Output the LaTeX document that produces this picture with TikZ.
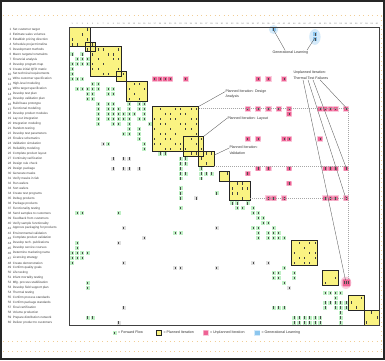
\documentclass[tikz,border=0pt]{standalone}
\usepackage{fontspec}
\setmainfont{Liberation Sans}
\definecolor{yfill}{RGB}{250,243,130}
\definecolor{gfill}{RGB}{192,240,198}
\definecolor{pfill}{RGB}{238,98,148}
\definecolor{pglow}{RGB}{250,205,222}
\definecolor{bfill}{RGB}{140,198,238}
\definecolor{bglow}{RGB}{212,234,250}
\definecolor{dotc}{RGB}{240,205,150}
\newcommand\dsmmark[3]{%
  \fill[#1] ({#2-0.88},{#3-0.9}) rectangle ({#2-0.12},{#3-0.1});
  \fill[black!70] ({#2-0.56},{#3-0.74}) rectangle ({#2-0.44},{#3-0.26});}
\newcommand\pinkglow[2]{%
  \fill[pglow] ({#1-1.12},{#2-1.08}) rectangle ({#1+0.12},{#2+0.08});}
\newcommand\pinkcell[2]{%
  \fill[pfill,rounded corners=0.3pt] ({#1-0.92},{#2-0.9}) rectangle ({#1-0.08},{#2-0.1});
  \fill[black!70] ({#1-0.56},{#2-0.74}) rectangle ({#1-0.44},{#2-0.26});}
\begin{document}
\begin{tikzpicture}[x=1pt,y=-1pt,
  lbl/.style={font=\fontsize{3.1}{3.1}\selectfont, text=black!75, inner sep=0pt},
  hdr/.style={font=\fontsize{2}{2}\selectfont, text=black!55, inner sep=0pt},
  ann/.style={font=\fontsize{3.6}{5.6}\selectfont, text=black!80, inner sep=0.3pt, align=left},
  lead/.style={draw=black!65, line width=0.35pt},
  dotl/.style={draw=black!35, line width=0.45pt, dash pattern=on 0.7pt off 1.3pt},
  blockframe/.style={draw=black!85, line width=0.8pt},
  edgedots/.style={draw=dotc, line width=1pt, dash pattern=on 1pt off 3.5pt}]
\useasboundingbox (0,0) rectangle (385,360);
\fill[white] (0,0) rectangle (385,360);
% outer frame and dotted page edges
\draw[line width=1.6pt, black!85] (0.8,0.8) rectangle (384.2,359.2);
\draw[edgedots] (3,15.8) -- (383,15.8);
\draw[edgedots] (3,341.5) -- (383,341.5);
\draw[edgedots] (3,351) -- (383,351);
\draw[edgedots] (381.8,15.8) -- (381.8,351);
% row labels
\foreach \ii/\lab in {1/Set customer target,2/Estimate sales volumes,3/Establish pricing direction,4/Schedule project timeline,5/Development methods,6/{Macro targets/constraints},7/Financial analysis,8/Develop program map,9/Create initial QFD matrix,10/Set technical requirements,11/Write customer specification,12/High-level modeling,13/Write target specification,14/Develop test plan,15/Develop validation plan,16/Build base prototype,17/Functional modeling,18/Develop product modules,19/Lay out integration,20/Integration modeling,21/Random testing,22/Develop test parameters,23/Finalize schematics,24/Validation simulation,25/Reliability modeling,26/Complete product layout,27/Continuity verification,28/Design rule check,29/Design package,30/Generate masks,31/Verify masks in fab,32/Run wafers,33/Sort wafers,34/Create test programs,35/Debug products,36/Package products,37/Functionality testing,38/Send samples to customers,39/Feedback from customers,40/Verify sample functionality,41/Approve packaging for products,42/Environmental validation,43/Complete product validation,44/Develop tech. publications,45/Develop service courses,46/Determine marketing name,47/Licensing strategy,48/Create demonstration,49/Confirm quality goals,50/Life testing,51/Infant mortality testing,52/Mfg. process stabilization,53/Develop field support plan,54/Thermal testing,55/Confirm process standards,56/Confirm package standards,57/Final certification,58/Volume production,59/Prepare distribution network,60/Deliver product to customers}{
  \node[lbl, anchor=east] (num\ii) at (11.6,{27+(\ii-0.5)*4.967}) {\ii};
  \node[lbl, anchor=west] (lab\ii) at (12.6,{27+(\ii-0.5)*4.967}) {\lab};
}
% matrix
\begin{scope}[shift={(69.5pt,-27pt)}, x=5.1667pt, y=-4.967pt]
  \foreach \cc in {1,...,60}{\node[hdr] (h\cc) at ({\cc-0.5},-0.65) {\cc};}
  % planned iteration blocks
  \foreach \ba/\bb in {1/4,4/5,5/10,10/11,12/15,17/25,23/26,26/28,30/31,32/35,44/48,50/52,55/57,58/60}{
    \fill[yfill] ({\ba-1},{\ba-1}) rectangle (\bb,\bb);
  }
  \foreach \ba/\bb in {1/4,4/5,5/10,10/11,12/15,17/25,23/26,26/28,30/31,32/35,44/48,50/52,55/57,58/60}{
    \foreach \ui in {\ba,...,\bb}{\foreach \uj in {\ba,...,\bb}{
      \pgfmathtruncatemacro\mk{mod(\ui*3+\uj*5,7)}
      \ifnum\ui=\uj\relax\else\ifnum\mk<4
        \fill[black!75] ({\uj-0.56},{\ui-0.74}) rectangle ({\uj-0.44},{\ui-0.26});
      \fi\fi
    }}
  }
  % forward flow marks
  \foreach \rr/\cc in {6/1,6/3,7/2,7/3,7/4,8/1,8/2,8/3,8/4,9/1,10/1,11/1,11/2,11/3,
    12/5,12/6,13/2,13/3,13/4,13/5,13/6,13/8,13/9,14/4,14/5,14/8,14/9,15/4,15/5,
    16/6,16/8,16/9,16/12,16/14,16/15,17/6,17/8,17/9,17/10,17/12,17/14,17/15,
    18/6,18/8,18/9,18/10,18/11,18/12,18/13,18/15,19/6,19/8,19/9,19/10,19/11,19/12,19/14,19/15,
    20/6,20/9,20/10,20/12,20/16,21/12,21/14,22/11,22/12,22/14,23/14,24/8,24/15,25/15,
    26/18,26/19,27/22,27/23,28/22,28/23,29/22,29/26,30/22,30/23,30/26,30/27,30/28,31/22,31/26,
    33/22,34/22,34/29,35/22,37/22,
    36/32,36/33,36/35,37/33,37/34,37/36,38/2,38/3,38/10,38/36,38/37,39/37,39/38,40/38,40/39,
    41/36,41/37,41/40,42/21,42/22,42/37,42/39,42/40,42/41,43/37,43/39,43/40,43/41,43/42,
    44/2,45/2,46/1,46/2,46/3,46/4,47/1,47/2,47/3,48/1,49/42,50/40,50/41,50/44,51/40,51/41,51/44,
    52/4,52/42,53/4,54/50,54/51,54/52,54/53,55/52,56/50,56/51,56/52,56/53,56/54,
    57/40,57/41,57/42,57/50,57/52,57/53,57/54,58/53,59/4,59/5,59/44,59/45,59/46,59/47,59/48,59/49,59/53,
    60/44,60/45,60/46,60/47,60/48,60/49,60/53}{\dsmmark{gfill}{\cc}{\rr}}
  \foreach \rr/\cc in {24/7,27/9,27/11,27/12,29/9,29/11,29/12,29/14,35/25,41/11,41/29,43/15,44/10,
    48/11,48/36,48/39,49/21,49/22,49/29,53/43,57/11,60/10}{\dsmmark{black!12}{\cc}{\rr}}
  % unplanned iteration marks
  \foreach \rr/\cc in {11/17,11/18,11/19,11/20,11/23,11/37,11/39,11/42,
    17/35,17/37,17/39,17/41,17/43,17/49,17/50,17/51,17/52,17/54,18/43,
    23/35,23/37,23/42,23/43,23/49,29/37,29/39,29/43,29/50,29/51,29/52,29/54,
    30/35,32/43,35/39,35/40,35/42,35/50,35/51,35/52,35/54}{\pinkglow{\cc}{\rr}}
  \foreach \rr/\cc in {11/17,11/18,11/19,11/20,11/23,11/37,11/39,11/42,
    17/35,17/37,17/39,17/41,17/43,17/49,17/50,17/51,17/52,17/54,18/43,
    23/35,23/37,23/42,23/43,23/49,29/37,29/39,29/43,29/50,29/51,29/52,29/54,
    30/35,32/43,35/39,35/40,35/42,35/50,35/51,35/52,35/54}{\pinkcell{\cc}{\rr}}
  \fill[pglow] (53.5,51.5) ellipse (1.05 and 1.25);
  \fill[pfill,rounded corners=0.5pt] (52.85,50.8) rectangle (54.35,52.2);
  \foreach \xx in {53.1,53.5,53.9}{\fill[black!70] ({\xx-0.06},51.2) rectangle ({\xx+0.06},51.8);}
  % generational learning marks
  \fill[bglow] (39.5,0.5) ellipse (0.9 and 0.9);
  \fill[bglow] (47.5,2) ellipse (1.1 and 1.6);
  \foreach \rr/\cc in {1/40,2/48,3/48}{\dsmmark{bfill}{\cc}{\rr}}
  % block frames
  \foreach \ba/\bb in {1/4,4/5,5/10,10/11,12/15,17/25,23/26,26/28,30/31,32/35,44/48,50/52,55/57,58/60}{
    \draw[blockframe] ({\ba-1},{\ba-1}) rectangle (\bb,\bb);
  }
  \draw[draw=black!75, line width=0.8pt] (0,0) rectangle (60,60);
  % named points
  \coordinate (blueA) at (39.5,0.6);
  \coordinate (blueB) at (47.5,2.2);
  \coordinate (bk6) at (25,16);
  \coordinate (bk7) at (26,22);
  \coordinate (bk8) at (28,25.8);
  \coordinate (t17) at (53.5,16.2);
  \coordinate (t29) at (53.5,28.2);
  \coordinate (t35) at (53.4,34.2);
  \coordinate (t52) at (53.4,50.9);
  \coordinate (d1a) at (25,16.3);  \coordinate (d1b) at (54,16.3);
  \coordinate (d2a) at (28,28.1);  \coordinate (d2b) at (54,28.1);
  \coordinate (d3a) at (35,34.4);  \coordinate (d3b) at (54,34.4);
  \coordinate (d4) at (54,50.9);
\end{scope}
% dotted boundary of the unplanned iteration region
\draw[dotl] (d1a) -- (d1b);
\draw[dotl] (d2a) -- (d2b);
\draw[dotl] (d3a) -- (d3b);
\draw[dotl] (d1b) -- (d4);
% annotations
\node[ann, anchor=west] (glab) at (272,52.3) {Generational Learning};
\draw[lead] (blueA) -- ([xshift=13pt]glab.north west);
\draw[lead] (blueB) -- ([xshift=35pt]glab.north west);
\node[ann, anchor=north west] (tlab) at (293,70.6) {Unplanned Iteration:\\Thermal Test Failures};
\draw[lead] ([xshift=10pt]tlab.south west) -- (t52);
\draw[lead] ([xshift=15pt]tlab.south west) -- (t35);
\draw[lead] ([xshift=20pt]tlab.south west) -- (t29);
\draw[lead] ([xshift=27pt]tlab.south west) -- (t17);
\node[ann, anchor=north west] (pd) at (225,89.2) {Planned Iteration: Design\\Analysis};
\draw[lead] ([yshift=-2.5pt]pd.north west) -- (bk6);
\node[ann, anchor=west] (pl) at (227,118.3) {Planned Iteration: Layout};
\draw[lead] (pl.west) -- (bk7);
\node[ann, anchor=north west] (pv) at (229,145.6) {Planned Iteration:\\Validation};
\draw[lead] ([yshift=-2.5pt]pv.north west) -- (bk8);
% legend
\fill[gfill] (112.6,330.6) rectangle (116.6,334.8);
\fill[black!70] (114.3,331.5) rectangle (114.9,333.9);
\node[ann, anchor=west] (lg1) at (117.6,332.7) {= Forward Flow};
\filldraw[fill=yfill, draw=black!85, line width=0.8pt] (156.5,330.2) rectangle (161.5,335.2);
\node[ann, anchor=west] (lg2) at (163,332.7) {= Planned Iteration};
\fill[pglow] (202.8,329.8) rectangle (208.6,335.6);
\fill[pfill, rounded corners=0.3pt] (203.5,330.6) rectangle (207.9,334.8);
\node[ann, anchor=west] (lg3) at (209.5,332.7) {= Unplanned Iteration};
\fill[bglow] (254.4,329.8) rectangle (260.2,335.6);
\fill[bfill] (255.1,330.6) rectangle (259.5,334.8);
\node[ann, anchor=west] (lg4) at (261,332.7) {= Generational Learning};
\end{tikzpicture}
\end{document}
